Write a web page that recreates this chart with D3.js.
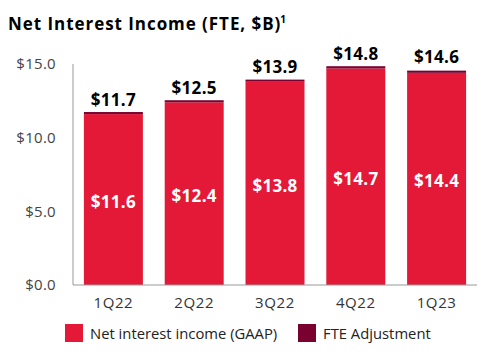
<!DOCTYPE html>
<html><head><meta charset="utf-8">
<script src="https://cdn.jsdelivr.net/npm/d3@7"></script>
<style>body{margin:0;background:#fff;} svg{display:block;font-family:"Open Sans",sans-serif;}</style>
</head><body>
<svg id="c" width="496" height="358"></svg>
<script>
const categories = ["1Q22","2Q22","3Q22","4Q22","1Q23"];
const gaap = [11.6, 12.4, 13.8, 14.7, 14.4];
const fte = [0.14, 0.14, 0.14, 0.15, 0.15];
const totals = [11.7, 12.5, 13.9, 14.8, 14.6];
const yTicks = [0, 5, 10, 15];
const seriesNames = ["Net interest income (GAAP)", "FTE Adjustment"];
const colors = ["#E31937", "#7A0030"];

const svg = d3.select("#c");
const x = d3.scaleBand().domain(categories).range([73, 477]).paddingInner(0.27).paddingOuter(0.135);
const y = d3.scaleLinear().domain([0, 15]).range([285, 64]);

// title
const t = svg.append("text").attr("x", 8).attr("y", 30).attr("font-size", 17).attr("font-weight", "bold").attr("fill", "#000")
  .attr("letter-spacing", 0.95).text("Net Interest Income (FTE, $B)");
t.append("tspan").attr("font-size", 10).attr("dy", -7).attr("dx", -1).text("1");

// y axis
const ya = svg.append("g").attr("transform", "translate(73,0)")
  .call(d3.axisLeft(y).tickValues(yTicks).tickSize(0).tickPadding(17).tickFormat(d => "$" + d3.format(".1f")(d)));
ya.select(".domain").attr("stroke", "#999").attr("d", "M0,64V285");
ya.selectAll("text").attr("font-size", 15).attr("fill", "#444").attr("letter-spacing", 0.3).attr("font-family", "Open Sans, sans-serif");

// bars
const g = svg.append("g");
categories.forEach((c, i) => {
  g.append("rect").attr("x", x(c)).attr("width", x.bandwidth()).attr("y", y(gaap[i])).attr("height", y(0) - y(gaap[i])).attr("fill", colors[0]);
  g.append("rect").attr("x", x(c)).attr("width", x.bandwidth()).attr("y", y(gaap[i] + fte[i])).attr("height", y(gaap[i]) - y(gaap[i] + fte[i])).attr("fill", colors[1]);
  g.append("text").attr("x", x(c) + x.bandwidth() / 2).attr("y", y(totals[i]) - 7).attr("text-anchor", "middle")
    .attr("font-size", 17).attr("font-weight", "bold").attr("letter-spacing", 0.3).attr("fill", "#000").text("$" + d3.format(".1f")(totals[i]));
  g.append("text").attr("x", x(c) + x.bandwidth() / 2).attr("y", (y(gaap[i]) + y(0)) / 2 + 2).attr("dominant-baseline", "central").attr("text-anchor", "middle")
    .attr("font-size", 17).attr("font-weight", "bold").attr("letter-spacing", 0.3).attr("fill", "#fff").text("$" + d3.format(".1f")(gaap[i]));
});

// x axis
const xa = svg.append("g").attr("transform", "translate(0,285)").call(d3.axisBottom(x).tickSize(0).tickPadding(12));
xa.select(".domain").attr("stroke", "#999").attr("d", "M73,0H477");
xa.selectAll("text").attr("font-size", 15).attr("fill", "#333").attr("letter-spacing", 0.6).attr("font-family", "Open Sans, sans-serif");

// legend
const legX = [65, 298];
seriesNames.forEach((n, i) => {
  svg.append("rect").attr("x", legX[i]).attr("y", 324).attr("width", 18).attr("height", 18).attr("fill", colors[i]);
  svg.append("text").attr("x", legX[i] + 25).attr("y", 339).attr("font-size", 14.8).attr("fill", "#222").text(n);
});
</script>
</body></html>
